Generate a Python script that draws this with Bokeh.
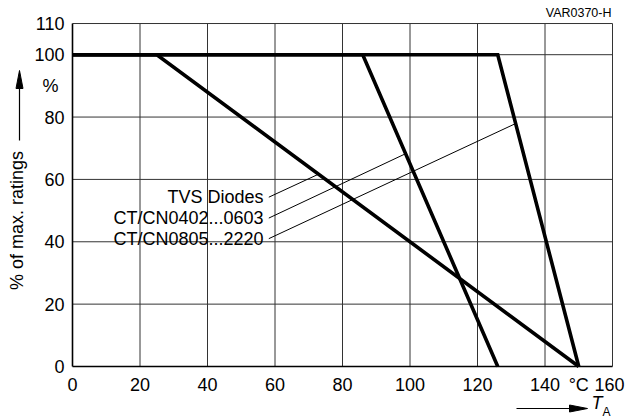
import numpy as np
from bokeh.plotting import figure
from bokeh.models import Range1d
from bokeh.embed import file_html
from bokeh.resources import INLINE
from bokeh.core.properties import value

# ---- data ----
tvs_x = [0, 25, 150]
tvs_y = [100, 100, 0]
ct0402_x = [0, 86, 126]
ct0402_y = [100, 100, 0]
ct0805_x = [0, 126, 150]
ct0805_y = [100, 100, 0]

series_names = ["TVS Diodes", "CT/CN0402...0603", "CT/CN0805...2220"]
label_y = [54.3, 47.6, 41.0]
leader_end_x = [72.9, 98.7, 131.3]

x_ticks = [0, 20, 40, 60, 80, 100, 120, 140, 160]
x_tick_labels = ["0", "20", "40", "60", "80", "100", "120", "140", "160"]
x_unit_pos = [150]
x_unit_label = ["°C"]
y_ticks = [0, 20, 40, 60, 80, 100, 110]
y_tick_labels = ["0", "20", "40", "60", "80", "100", "110"]
y_unit_pos = [90]
y_unit_label = ["%"]
x_grid = [20, 40, 60, 80, 100, 120, 140, 160]
y_grid = [20, 40, 60, 80, 100, 110]
x_lim = [0, 160]
y_lim = [0, 110]

# ---- layout (pixel frame of the plotting area inside the 626x419 canvas) ----
W, H = 626, 419
X0_PX, PX_PER_X = 72.0, 3.375
Y0_PX, PX_PER_Y = 366.0, 3.118


def dx(px):
    return (px - X0_PX) / PX_PER_X


def dy(py):
    return (Y0_PX - py) / PX_PER_Y


FONT = "Liberation Sans"

p = figure(width=W, height=H, x_range=Range1d(dx(0), dx(W)), y_range=Range1d(dy(H), dy(0)),
           output_backend="svg", toolbar_location=None,
           x_axis_location=None, y_axis_location=None,
           min_border_left=0, min_border_right=0, min_border_top=0, min_border_bottom=0)
p.outline_line_color = None
p.grid.visible = False
p.background_fill_color = "white"
p.border_fill_color = "white"

# grid
p.segment(x0=x_grid, y0=[y_lim[0]] * len(x_grid), x1=x_grid, y1=[y_lim[1]] * len(x_grid),
          line_color="#333333", line_width=1, level="underlay")
p.segment(x0=[x_lim[0]] * len(y_grid), y0=y_grid, x1=[x_lim[1]] * len(y_grid), y1=y_grid,
          line_color="#333333", line_width=1, level="underlay")
# axis lines
p.segment(x0=[x_lim[0], x_lim[0]], y0=[y_lim[0], y_lim[0]], x1=[x_lim[1], x_lim[0]], y1=[y_lim[0], y_lim[1]],
          line_color="black", line_width=1.6)

# tick labels
x_offsets = [0] * (len(x_ticks) - 1) + [-3]
p.text(x=x_ticks, y=[y_lim[0]] * len(x_ticks), text=x_tick_labels, x_offset=x_offsets, y_offset=18,
       text_align="center", text_baseline="middle", text_font=value(FONT), text_font_size="18px",
       text_color="black")
p.text(x=x_unit_pos, y=[y_lim[0]], text=x_unit_label, y_offset=18,
       text_align="center", text_baseline="middle", text_font=value(FONT), text_font_size="18px",
       text_color="black")
p.text(x=[x_lim[0]] * len(y_ticks), y=y_ticks, text=y_tick_labels, x_offset=-8,
       text_align="right", text_baseline="middle", text_font=value(FONT), text_font_size="18px",
       text_color="black")
p.text(x=[x_lim[0]], y=y_unit_pos, text=y_unit_label, x_offset=-22,
       text_align="center", text_baseline="middle", text_font=value(FONT), text_font_size="18px",
       text_color="black")

# curves
curves = [(tvs_x, tvs_y), (ct0402_x, ct0402_y), (ct0805_x, ct0805_y)]
for xs, ys in curves:
    p.line(xs, ys, line_color="black", line_width=3.6, line_join="miter")

# leader lines + series labels
end_y = [float(np.interp(ex, cx, cy)) for ex, (cx, cy) in zip(leader_end_x, curves)]
p.segment(x0=[dx(268.3)] * 3, y0=label_y, x1=leader_end_x, y1=end_y, line_color="black", line_width=1)
p.text(x=[dx(263)] * 3, y=label_y, text=series_names, text_align="right", text_baseline="middle",
       text_font=value(FONT), text_font_size="18px", text_color="black")

# y axis title with arrow
p.text(x=[dx(16.5)], y=[dy(220)], text=["% of max. ratings"], angle=np.pi / 2,
       text_align="center", text_baseline="middle",
       text_font=value(FONT), text_font_size="18px", text_color="black")
p.segment(x0=[dx(19)], y0=[dy(140)], x1=[dx(19)], y1=[dy(84)], line_color="black", line_width=1.2)
p.patch(x=[dx(19), dx(15.5), dx(22.5)], y=[dy(70), dy(88), dy(88)], fill_color="black", line_color="black")

# x axis title with arrow
p.segment(x0=[dx(516)], y0=[dy(408)], x1=[dx(572)], y1=[dy(408)], line_color="black", line_width=1.2)
p.patch(x=[dx(587), dx(569), dx(569)], y=[dy(408), dy(404.5), dy(411.5)], fill_color="black", line_color="black")
p.text(x=[dx(591)], y=[dy(402)], text=["T"], text_align="left", text_baseline="middle",
       text_font=value(FONT), text_font_style="italic", text_font_size="18px", text_color="black")
p.text(x=[dx(602)], y=[dy(411)], text=["A"], text_align="left", text_baseline="middle",
       text_font=value(FONT), text_font_size="12px", text_color="black")

# figure code
p.text(x=[dx(611)], y=[dy(12)], text=["VAR0370-H"], text_align="right", text_baseline="middle",
       text_font=value(FONT), text_font_size="12.5px", text_color="black")

open("out.html", "w").write(file_html(p, INLINE))
